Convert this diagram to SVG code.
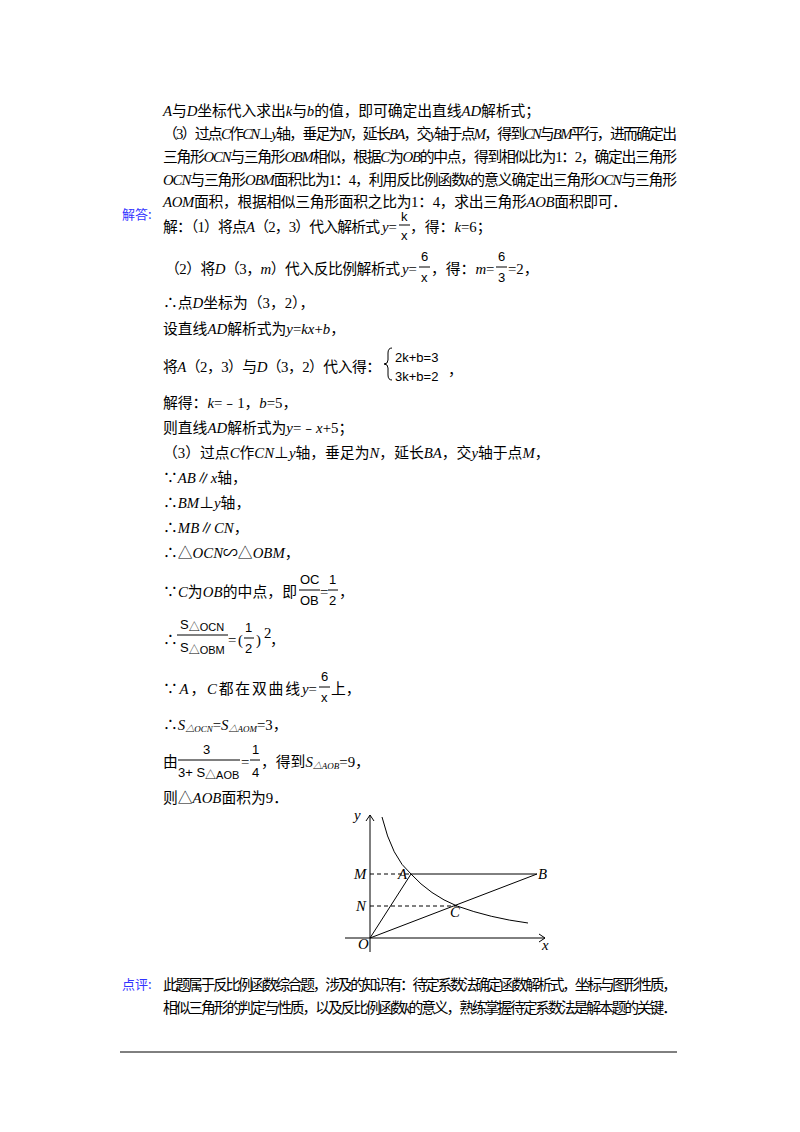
<svg xmlns="http://www.w3.org/2000/svg" width="800" height="1132" viewBox="0 0 800 1132">
<style>
text{font-family:"Liberation Serif","Noto Sans CJK SC",serif;font-size:14.8px;fill:#000}
.i{font-style:italic}
.n{font-family:"Liberation Serif",serif}
.b{fill:#3333ff;font-family:"Noto Sans CJK SC",sans-serif;font-size:13px}
.s{font-family:"Liberation Sans","Noto Sans CJK SC",sans-serif;font-size:13px}
.sub{font-size:9px}
line{stroke:#000;stroke-width:1}
.d{stroke-dasharray:4 3}
</style>
<rect width="800" height="1132" fill="#fff"/>
<g id="intro">
<text x="163" y="116" textLength="377"><tspan class="i">A</tspan>与<tspan class="i">D</tspan>坐标代入求出<tspan class="i">k</tspan>与<tspan class="i">b</tspan>的值，即可确定出直线<tspan class="i">AD</tspan>解析式；</text>
<text x="163" y="139" textLength="514">（<tspan class="n">3</tspan>）过点<tspan class="i">C</tspan>作<tspan class="i">CN</tspan>⊥<tspan class="i">y</tspan>轴，垂足为<tspan class="i">N</tspan>，延长<tspan class="i">BA</tspan>，交<tspan class="i">y</tspan>轴于点<tspan class="i">M</tspan>，得到<tspan class="i">CN</tspan>与<tspan class="i">BM</tspan>平行，进而确定出</text>
<text x="163" y="162" textLength="514">三角形<tspan class="i">OCN</tspan>与三角形<tspan class="i">OBM</tspan>相似，根据<tspan class="i">C</tspan>为<tspan class="i">OB</tspan>的中点，得到相似比为1：2，确定出三角形</text>
<text x="163" y="185" textLength="514"><tspan class="i">OCN</tspan>与三角形<tspan class="i">OBM</tspan>面积比为1：4，利用反比例函数<tspan class="i">k</tspan>的意义确定出三角形<tspan class="i">OCN</tspan>与三角形</text>
<text x="163" y="207" textLength="464"><tspan class="i">AOM</tspan>面积，根据相似三角形面积之比为1：4，求出三角形<tspan class="i">AOB</tspan>面积即可．</text>
</g>
<g id="answer">
<text class="b" x="122" y="219">解答:</text>
<text x="163" y="232" textLength="217">解：（<tspan class="n">1</tspan>）将点<tspan class="i">A</tspan>（2，3）代入解析式</text>
<text x="382" y="232"><tspan class="i">y</tspan>=</text>
<text class="s" x="401" y="221">k</text><line x1="399" y1="225" x2="410" y2="225"/><text class="s" x="401" y="240">x</text>
<text x="410" y="232">，得：<tspan class="i">k</tspan>=6；</text>

<text x="165" y="274" textLength="235">（<tspan class="n">2</tspan>）将<tspan class="i">D</tspan>（3，<tspan class="i">m</tspan>）代入反比例解析式</text>
<text x="402" y="274"><tspan class="i">y</tspan>=</text>
<text class="s" x="421" y="261">6</text><line x1="419" y1="267" x2="430" y2="267"/><text class="s" x="421" y="282">x</text>
<text x="431" y="274">，得：<tspan class="i">m</tspan>=</text>
<text class="s" x="498" y="261">6</text><line x1="496" y1="267" x2="507" y2="267"/><text class="s" x="498" y="282">3</text>
<text x="508" y="274">=2，</text>

<text x="163" y="308">∴点<tspan class="i">D</tspan>坐标为（3，2），</text>
<text x="163" y="334">设直线<tspan class="i">AD</tspan>解析式为<tspan class="i">y</tspan>=<tspan class="i">kx</tspan>+<tspan class="i">b</tspan>，</text>
<text x="163" y="372" textLength="218">将<tspan class="i">A</tspan>（2，3）与<tspan class="i">D</tspan>（3，2）代入得：</text>
<path d="M392 348 q-4 0 -4 5 v7 q0 4 -4 4 q4 0 4 4 v7 q0 5 4 5" fill="none" stroke="#000"/>
<text class="s" x="395" y="362">2k+b=3</text>
<text class="s" x="395" y="381">3k+b=2</text>
<text x="448" y="375">，</text>
<text x="163" y="408">解得：<tspan class="i">k</tspan>=﹣1，<tspan class="i">b</tspan>=5，</text>
<text x="163" y="433">则直线<tspan class="i">AD</tspan>解析式为<tspan class="i">y</tspan>=﹣<tspan class="i">x</tspan>+5；</text>
<text x="163" y="458">（<tspan class="n">3</tspan>）过点<tspan class="i">C</tspan>作<tspan class="i">CN</tspan>⊥<tspan class="i">y</tspan>轴，垂足为<tspan class="i">N</tspan>，延长<tspan class="i">BA</tspan>，交<tspan class="i">y</tspan>轴于点<tspan class="i">M</tspan>，</text>
<text x="163" y="483">∵<tspan class="i">AB</tspan>∥<tspan class="i">x</tspan>轴，</text>
<text x="163" y="508">∴<tspan class="i">BM</tspan>⊥<tspan class="i">y</tspan>轴，</text>
<text x="163" y="533">∴<tspan class="i">MB</tspan>∥<tspan class="i">CN</tspan>，</text>
<text x="163" y="558">∴△<tspan class="i">OCN</tspan>∽△<tspan class="i">OBM</tspan>，</text>

<text x="163" y="597" textLength="134">∵<tspan class="i">C</tspan>为<tspan class="i">OB</tspan>的中点，即</text>
<text class="s" x="300" y="584">OC</text><line x1="299" y1="590" x2="320" y2="590"/><text class="s" x="300" y="605">OB</text>
<text x="320" y="597">=</text>
<text class="s" x="329" y="584">1</text><line x1="328" y1="590" x2="338" y2="590"/><text class="s" x="329" y="605">2</text>
<text x="339" y="597">，</text>

<text x="163" y="645">∴</text>
<line x1="177" y1="635" x2="228" y2="635"/>
<text class="s" x="180" y="629">S<tspan font-size="11" dy="2">△OCN</tspan></text>
<text class="s" x="180" y="652">S<tspan font-size="11" dy="2">△OBM</tspan></text>
<text x="228" y="645">=</text>
<text x="238" y="645">(</text>
<text class="s" x="245" y="632">1</text><line x1="244" y1="638" x2="254" y2="638"/><text class="s" x="245" y="653">2</text>
<text x="256" y="645">)</text><text x="264" y="638" font-size="9">2</text><text x="270" y="645">，</text>

<text x="163" y="694" textLength="137">∵<tspan class="i">A</tspan>，<tspan class="i">C</tspan>都在双曲线</text>
<text x="302" y="694"><tspan class="i">y</tspan>=</text>
<text class="s" x="321" y="681">6</text><line x1="319" y1="687" x2="330" y2="687"/><text class="s" x="321" y="702">x</text>
<text x="331" y="694">上，</text>

<text x="163" y="730">∴<tspan class="i">S</tspan><tspan class="i sub" dy="2">△OCN</tspan><tspan dy="-2">=</tspan><tspan class="i">S</tspan><tspan class="i sub" dy="2">△AOM</tspan><tspan dy="-2">=3，</tspan></text>

<text x="163" y="767">由</text>
<text class="s" x="203" y="754">3</text>
<line x1="178" y1="760" x2="240" y2="760"/>
<text class="s" x="178" y="777">3+ S<tspan font-size="11" dy="2">△AOB</tspan></text>
<text x="241" y="767">=</text>
<text class="s" x="252" y="754">1</text><line x1="250" y1="760" x2="260" y2="760"/><text class="s" x="252" y="777">4</text>
<text x="261" y="767">，得到<tspan class="i">S</tspan><tspan class="i sub" dy="2">△AOB</tspan><tspan dy="-2">=9，</tspan></text>
<text x="163" y="803">则△<tspan class="i">AOB</tspan>面积为9．</text>
</g>
<g id="figure">
<line x1="370" y1="952" x2="370" y2="815"/>
<path d="M366 821 L370 815 L374 821" fill="none" stroke="#000"/>
<line x1="345" y1="938" x2="545" y2="938"/>
<path d="M539 934 L545 938 L539 942" fill="none" stroke="#000"/>
<path d="M382 817 Q392 858 411 874 Q430 895 457 906 Q490 918 528 923" fill="none" stroke="#000"/>
<line class="d" x1="370" y1="874" x2="411" y2="874"/>
<line x1="411" y1="874" x2="537" y2="874"/>
<line class="d" x1="370" y1="906" x2="457" y2="906"/>
<line x1="370" y1="938" x2="411" y2="874"/>
<line x1="370" y1="938" x2="537" y2="874"/>
<text class="i" x="354" y="820" font-size="13">y</text>
<text class="i" x="354" y="879" font-size="13">M</text>
<text class="i" x="356" y="911" font-size="13">N</text>
<text class="i" x="358" y="949" font-size="13">O</text>
<text class="i" x="398" y="879" font-size="13">A</text>
<text class="i" x="538" y="879" font-size="13">B</text>
<text class="i" x="450" y="917" font-size="13">C</text>
<text class="i" x="542" y="950" font-size="13">x</text>
</g>
<g id="comment">
<text class="b" x="122" y="989">点评:</text>
<text x="163" y="990" textLength="514">此题属于反比例函数综合题，涉及的知识有：待定系数法确定函数解析式，坐标与图形性质，</text>
<text x="163" y="1013" textLength="514">相似三角形的判定与性质，以及反比例函数<tspan class="i">k</tspan>的意义，熟练掌握待定系数法是解本题的关键．</text>
</g>
<line x1="120" y1="1052" x2="677" y2="1052"/>
</svg>
